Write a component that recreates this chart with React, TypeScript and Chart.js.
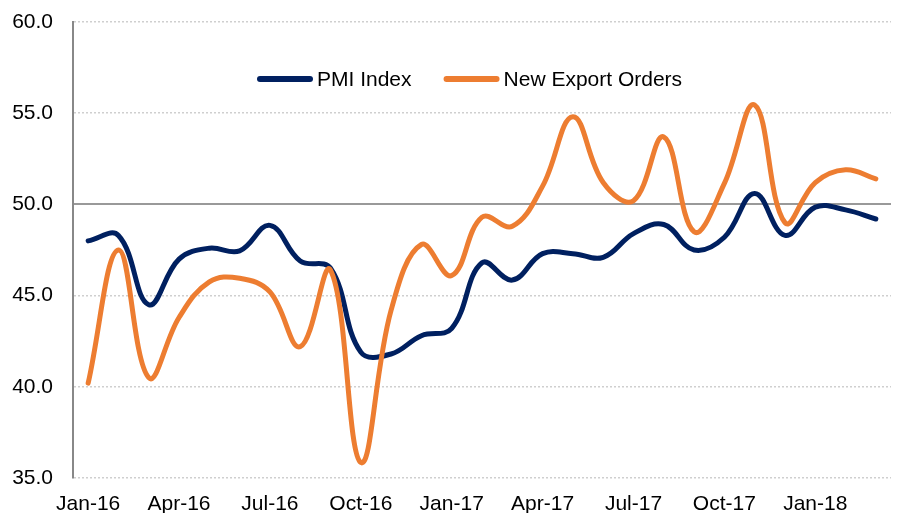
import React, { useEffect, useRef } from "react";
import { Chart, registerables } from "chart.js";

Chart.register(...registerables);

const months: string[] = [
  "Jan-16", "Feb-16", "Mar-16", "Apr-16", "May-16", "Jun-16", "Jul-16", "Aug-16", "Sep-16",
  "Oct-16", "Nov-16", "Dec-16", "Jan-17", "Feb-17", "Mar-17", "Apr-17", "May-17", "Jun-17",
  "Jul-17", "Aug-17", "Sep-17", "Oct-17", "Nov-17", "Dec-17", "Jan-18", "Feb-18", "Mar-18",
];

const pmiIndex: number[] = [
  48.0, 48.3, 44.5, 47.0, 47.6, 47.45, 48.85, 46.9, 46.5,
  41.9, 41.8, 42.8, 43.2, 46.8, 45.85, 47.3, 47.3, 47.1,
  48.4, 48.9, 47.5, 48.2, 50.6, 48.3, 49.85, 49.7, 49.2,
];

const newExportOrders: number[] = [
  40.2, 47.5, 40.5, 43.8, 45.75, 45.95, 45.2, 42.2, 46.4,
  35.85, 44.2, 47.8, 46.1, 49.3, 48.8, 51.0, 54.8, 51.2,
  50.2, 53.7, 48.5, 51.15, 55.45, 49.0, 51.2, 51.9, 51.4,
];

const seriesNames: string[] = ["PMI Index", "New Export Orders"];
const seriesColors: string[] = ["#002060", "#ED7D31"];
const yTicks: number[] = [35, 40, 45, 50, 55, 60];
const referenceLevel = 50;

const FONT = "'Liberation Sans', Arial, sans-serif";

const insideLegend = {
  id: "insideLegend",
  afterDraw(chart: any) {
    const { ctx, chartArea } = chart;
    ctx.save();
    ctx.font = `21px ${FONT}`;
    ctx.textBaseline = "middle";
    ctx.textAlign = "left";
    const y = chartArea.top + 57;
    let x = chartArea.left + 184;
    const sample = 56;
    const gap = 4;
    const itemGap = 32;
    seriesNames.forEach((name, i) => {
      ctx.strokeStyle = seriesColors[i];
      ctx.lineWidth = 6;
      ctx.lineCap = "round";
      ctx.beginPath();
      ctx.moveTo(x + 3, y);
      ctx.lineTo(x + sample - 3, y);
      ctx.stroke();
      x += sample + gap;
      ctx.fillStyle = "#000";
      ctx.fillText(name, x, y + 1);
      x += ctx.measureText(name).width + itemGap;
    });
    ctx.restore();
  },
};

export default function App() {
  const canvasRef = useRef<HTMLCanvasElement | null>(null);

  useEffect(() => {
    document.body.style.margin = "0";
    const canvas = canvasRef.current;
    if (!canvas) return;
    const chart = new Chart(canvas, {
      type: "line",
      data: {
        labels: months,
        datasets: [
          {
            label: seriesNames[0],
            data: pmiIndex,
            borderColor: seriesColors[0],
            backgroundColor: seriesColors[0],
            borderWidth: 5,
            pointRadius: 0,
            tension: 0.4,
            borderCapStyle: "round",
            borderJoinStyle: "round",
            order: 1,
          },
          {
            label: seriesNames[1],
            data: newExportOrders,
            borderColor: seriesColors[1],
            backgroundColor: seriesColors[1],
            borderWidth: 5,
            pointRadius: 0,
            tension: 0.4,
            borderCapStyle: "round",
            borderJoinStyle: "round",
            order: 0,
          },
        ],
      },
      options: {
        animation: false,
        responsive: false,
        maintainAspectRatio: false,
        layout: { padding: { top: 22, right: 8, left: 0, bottom: 0 } },
        plugins: {
          legend: { display: false },
          tooltip: { enabled: false },
        },
        scales: {
          x: {
            type: "category",
            offset: true,
            grid: { display: false, drawTicks: false },
            border: { display: false },
            ticks: {
              autoSkip: false,
              maxRotation: 0,
              minRotation: 0,
              padding: 14,
              color: "#000",
              font: { family: FONT, size: 21 },
              callback: (_v: any, i: number) => (i % 3 === 0 ? months[i] : ""),
            },
            afterFit: (scale: any) => {
              scale.height = 35;
              scale.paddingLeft = 0;
              scale.paddingRight = 0;
            },
          },
          y: {
            min: yTicks[0],
            max: yTicks[yTicks.length - 1],
            grid: {
              drawTicks: false,
              color: (c: any) => (c.tick && c.tick.value === referenceLevel ? "#999999" : "#cfcfcf"),
              lineWidth: (c: any) => (c.tick && c.tick.value === referenceLevel ? 2 : 1.5),
            },
            border: {
              display: true,
              color: "#888888",
              width: 2,
              dash: (c: any) => (c.tick && c.tick.value === referenceLevel ? [] : [2, 2]),
            },
            afterBuildTicks: (scale: any) => {
              scale.ticks = yTicks.map((v) => ({ value: v }));
            },
            ticks: {
              padding: 20,
              color: "#000",
              font: { family: FONT, size: 21 },
              callback: (v: any) => Number(v).toFixed(1),
            },
            afterFit: (scale: any) => {
              scale.width = 73;
              scale.paddingTop = 0;
              scale.paddingBottom = 0;
            },
          },
        },
      },
      plugins: [insideLegend],
    });
    return () => chart.destroy();
  }, []);

  return (
    <div style={{ position: "relative", width: 899, height: 513 }}>
      <canvas ref={canvasRef} width={899} height={513} style={{ display: "block" }} />
    </div>
  );
}
